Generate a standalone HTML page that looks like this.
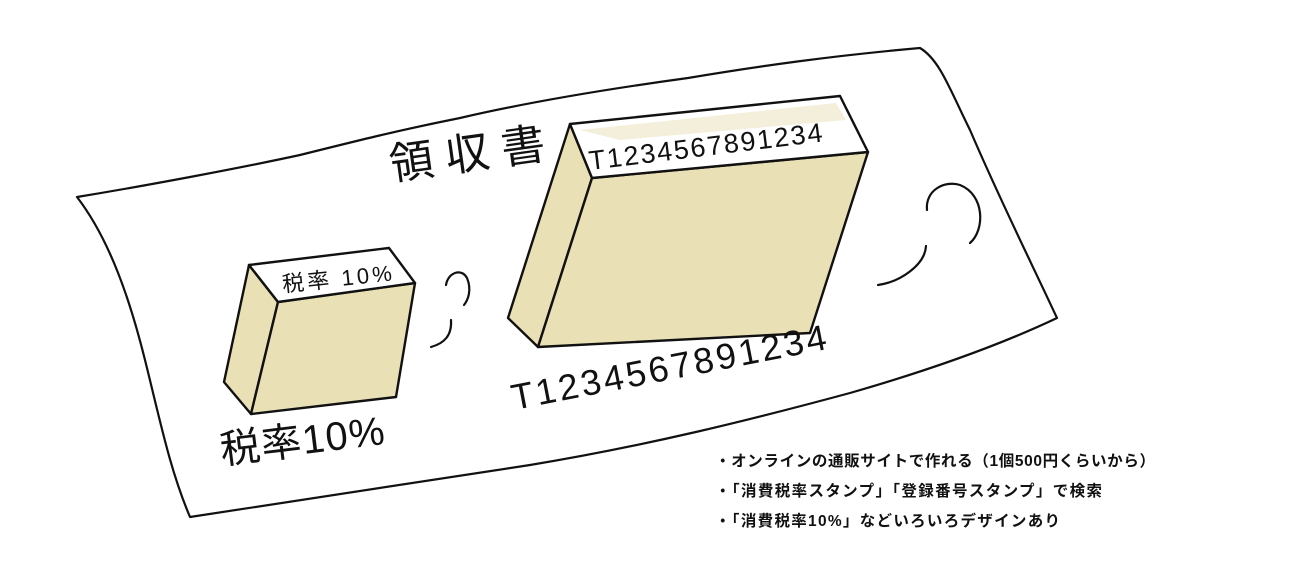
<!DOCTYPE html>
<html><head><meta charset="utf-8"><style>
html,body{margin:0;padding:0;background:#fff;width:1301px;height:584px;overflow:hidden}
svg{display:block}
.h{font-family:"Liberation Sans","Noto Sans CJK JP",sans-serif;fill:#111}
.b{font-family:"Liberation Sans","Noto Sans CJK JP",sans-serif;font-weight:bold;font-size:15.5px;fill:#111}
</style></head><body>
<svg width="1301" height="584" viewBox="0 0 1301 584" xmlns="http://www.w3.org/2000/svg">
<g fill="none" stroke="#111" stroke-width="2.2" stroke-linecap="round" stroke-linejoin="round">
<path d="M77,197 C150,185 240,168 300,155 C360,140 400,130 460,118 C520,104 600,90 688,78 C760,66 830,56 920,48 C940,60 950,90 970,130 C1000,200 1030,260 1057,318 C1000,345 930,370 850,393 C750,420 650,445 530,465 C430,480 330,495 190,517 C170,470 160,420 145,360 C130,300 110,240 77,197 Z"/>
<path d="M927,210 C925,190 945,180 960,185 C985,195 985,230 970,243"/>
<path d="M926,246 C925,265 900,282 878,285"/>
<path d="M446,285 C448,272 462,268 467,278 C472,290 468,300 464,305"/>
<path d="M451,320 C452,335 445,343 431,347"/>
</g>
<g stroke="#111" stroke-width="2.4" stroke-linejoin="round">
<polygon points="249,265 278,302 251,414 224,382" fill="#e9e0b5"/>
<polygon points="278,302 415,283 396,397 251,414" fill="#e9e0b5"/>
<polygon points="249,265 389,248 415,283 278,302" fill="#fff"/>
</g>
<g stroke="#111" stroke-width="2.4" stroke-linejoin="round">
<polygon points="570,124 592,178 538,347 508,318" fill="#e9e0b5"/>
<polygon points="592,178 868,152 810,333 538,347" fill="#e9e0b5"/>
<polygon points="570,124 840,96 868,152 592,178" fill="#fff"/>
</g>
<polygon points="580,130 836,103 846,120 620,140" fill="#e9e0b5" opacity="0.5"/>
<text class="h" x="392" y="180" font-size="44" transform="rotate(-8 392 180)">領 収 書</text>
<text class="h" x="590" y="170" font-size="27" textLength="235" transform="rotate(-7 590 170)">T1234567891234</text>
<text class="h" x="283" y="292" font-size="22" textLength="110" transform="rotate(-6 283 292)">税率 10%</text>
<text class="h" x="514" y="410" font-size="36" textLength="320" transform="rotate(-11 514 410)">T1234567891234</text>
<text class="h" x="222" y="464" font-size="40" textLength="165" transform="rotate(-7 222 464)">税率10%</text>
<text class="b" x="715" y="466" textLength="440">・オンラインの通販サイトで作れる（1個500円くらいから）</text>
<text class="b" x="715" y="496" textLength="387">・「消費税率スタンプ」「登録番号スタンプ」で検索</text>
<text class="b" x="715" y="526" textLength="345">・「消費税率10%」などいろいろデザインあり</text>
</svg>
</body></html>
